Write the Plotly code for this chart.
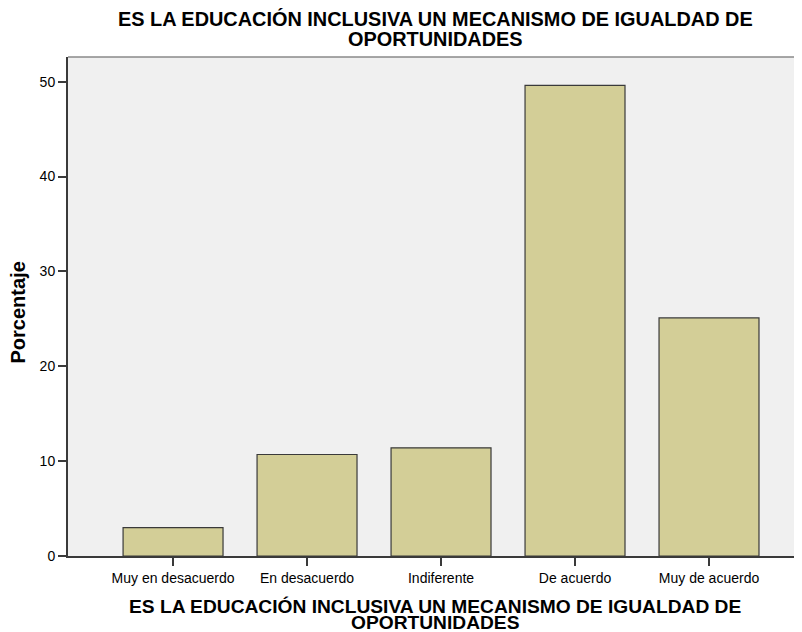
import plotly.graph_objects as go

# Data
categorias = ["Muy en desacuerdo", "En desacuerdo", "Indiferente", "De acuerdo", "Muy de acuerdo"]
porcentajes = [3.0, 10.7, 11.4, 49.6, 25.1]
titulo_l1 = "ES LA EDUCACIÓN INCLUSIVA UN MECANISMO DE IGUALDAD DE"
titulo_l2 = "OPORTUNIDADES"

# the page puts the figure 8px in from the top-left corner, so the layout is
# built 8px smaller and shifted accordingly
W, H = 794, 624
L, T, B = 60, 49, 76
plot_h = H - T - B
plot_bottom = H - B


def py(y_px):
    # figure pixel row -> paper coordinate
    return (plot_bottom - y_px) / plot_h


fig = go.Figure(
    go.Bar(
        x=categorias,
        y=porcentajes,
        width=0.746,
        marker=dict(color="#D3CE97", line=dict(color="#3a3a3a", width=1.2)),
    )
)

def etiqueta(texto, y_px, size):
    return dict(
        text="<b>" + texto + "</b>",
        xref="paper", yref="paper",
        x=0.5, y=py(y_px),
        xanchor="center", yanchor="middle",
        showarrow=False,
        font=dict(size=size),
    )


fig.update_layout(
    width=W,
    height=H,
    margin=dict(l=L, r=0, t=T, b=B),
    paper_bgcolor="white",
    plot_bgcolor="#F0F0F0",
    font=dict(family="Liberation Sans, Arial", color="black", size=14),
    showlegend=False,
    annotations=[
        etiqueta(titulo_l1, 11, 19.9),
        etiqueta(titulo_l2, 31, 19.9),
        etiqueta(titulo_l1, 598, 19.2),
        etiqueta(titulo_l2, 614, 19.2),
        dict(
            text="<b>Porcentaje</b>",
            xref="paper", yref="paper",
            x=(9.5 - L) / (W - L), y=py(305),
            xanchor="center", yanchor="middle",
            textangle=-90,
            showarrow=False,
            font=dict(size=20),
        ),
    ],
)

fig.update_xaxes(
    range=[-0.784, 4.694],
    showline=True, linecolor="#3a3a3a", linewidth=1.5,
    ticks="outside", ticklen=8, tickcolor="#3a3a3a", tickwidth=1.5,
    tickfont=dict(size=14),
    showgrid=False,
)

fig.update_yaxes(
    range=[0, 52.6],
    tickvals=[0, 10, 20, 30, 40, 50],
    showline=True, linecolor="#3a3a3a", linewidth=2,
    ticks="outside", ticklen=8, tickcolor="#3a3a3a", tickwidth=1.5,
    tickfont=dict(size=14),
    showgrid=False, zeroline=False,
)

# light frame along the top of the plot area
fig.add_shape(
    type="line", xref="paper", yref="paper",
    x0=0, x1=1, y0=1, y1=1,
    line=dict(color="#8a8a8a", width=1.5),
)

fig.write_html("out.html")
